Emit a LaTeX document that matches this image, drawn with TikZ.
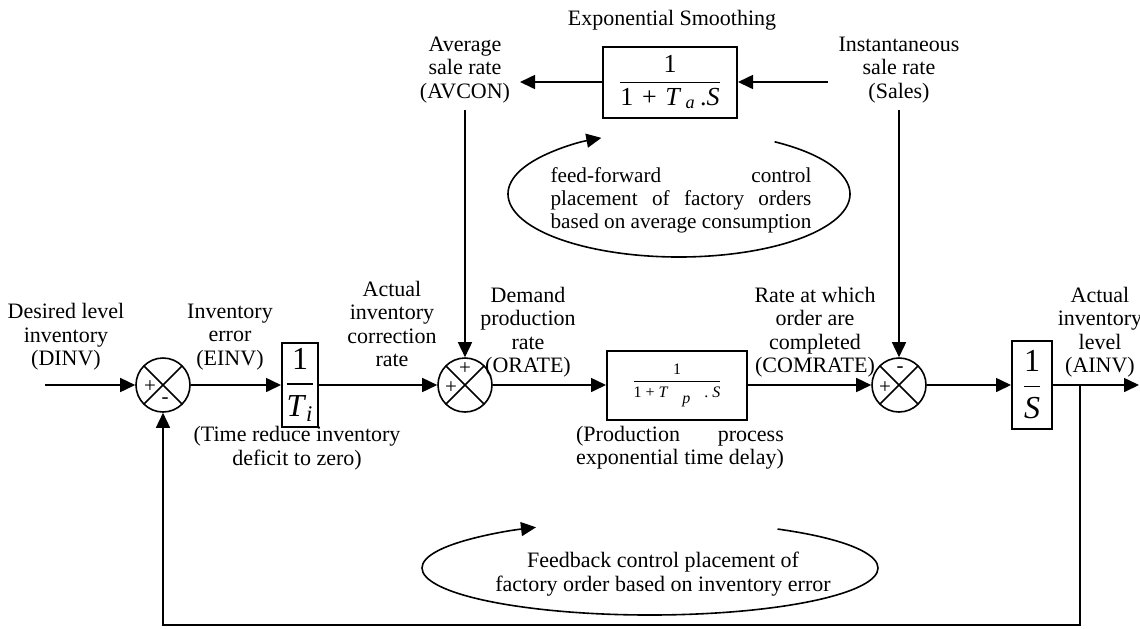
\documentclass[tikz,border=0pt]{standalone}
\usepackage{fontspec}
\setmainfont{Liberation Serif}
\usepackage{amsmath}
\usepackage{calc}
\usetikzlibrary{arrows.meta,positioning}

\newcommand{\gainfrac}[2]{$\dfrac{\text{#1}}{\text{#2}}$}

\tikzset{
  sumnode/.style={circle, draw, minimum size=27pt, inner sep=0pt,
    path picture={\draw (path picture bounding box.south west) -- (path picture bounding box.north east)
                        (path picture bounding box.north west) -- (path picture bounding box.south east);}},
  sig/.style={font=\fontsize{10.5}{10.5}\selectfont, inner sep=0pt},
  gainbox/.style={draw, line width=1pt, inner sep=0pt},
  lbl/.style={align=center},
  arr/.style={-{Triangle[length=7.5pt,width=7pt]}}
}

\begin{document}
\begin{tikzpicture}[x=0.5pt,y=-0.5pt, line width=0.8pt, every node/.style={font=\fontsize{11}{11.7}\selectfont}]
  \useasboundingbox (0,0) rectangle (1140,628);

  % main forward path
  \coordinate (in) at (45,385);
  \node[sumnode] (s1) at (163,385) {};
  \node[gainbox, minimum width=18pt, minimum height=42pt, font=\fontsize{16}{19}\selectfont] (ti) at (300,385)
    {\gainfrac{1}{\textit{T}\textsubscript{\textit{i}}}};
  \node[sumnode] (s2) at (465,385) {};
  \node[gainbox, minimum width=70pt, minimum height=34.5pt, font=\fontsize{8}{9}\selectfont] (tp) at (677,385)
    {\gainfrac{1}{1 + \textit{T}\hspace{7pt}\raisebox{-3pt}{\textit{p}}\hspace{7pt}.\hspace{2pt}\textit{S}}\hspace{8pt}};
  \node[sumnode] (s3) at (899,385) {};
  \node[gainbox, minimum width=20pt, minimum height=44pt, font=\fontsize{16}{19}\selectfont] (sb) at (1032,385)
    {\gainfrac{1}{\textit{S}}};
  \coordinate (br) at (1080,385);
  \coordinate (out) at (1139,385);
  \coordinate (fbc) at (1080,625);

  % signs
  \node[sig] (s1p) at ([xshift=-6.5pt,yshift=-1pt]s1.center) {+};
  \node[sig] (s1m) at ([xshift=1pt,yshift=-8pt]s1.center) {-};
  \node[sig] (s2t) at ([yshift=8pt]s2.center) {+};
  \node[sig] (s2l) at ([xshift=-7pt,yshift=-1.5pt]s2.center) {+};
  \node[sig] (s3p) at ([xshift=-7pt,yshift=-1.5pt]s3.center) {+};
  \node[sig] (s3m) at ([xshift=0.5pt,yshift=7.5pt]s3.center) {-};

  % smoothing branch
  \node[gainbox, minimum width=67pt, minimum height=35.5pt, font=\fontsize{13}{15}\selectfont] (ta) at (670,82)
    {\gainfrac{1}{1\,\,+\,\,\textit{T}\,\textsubscript{\textit{a}}\,.\textit{S}}};
  \node (es) at (672,20) {Exponential Smoothing};
  \node[lbl] (av) at (465,70) {Average\\sale rate\\(AVCON)};
  \node[lbl] (sales) at (899,70) {Instantaneous\\sale rate\\(Sales)};
  \coordinate (salesin) at (828,82);
  \coordinate (avout) at (520,82);

  % labels
  \node[lbl] (dinv) at (66,337) {Desired level\\inventory\\(DINV)};
  \node[lbl] (einv) at (230,337) {Inventory\\error\\(EINV)};
  \node[lbl] (acr) at (392,324) {Actual\\inventory\\correction\\rate};
  \node[lbl] (orate) at (528,332) {Demand\\production\\rate\\(ORATE)};
  \node[lbl] (comrate) at (815,332) {Rate at which\\order are\\completed\\(COMRATE)};
  \node[lbl] (ainv) at (1100,332) {Actual\\inventory\\level\\(AINV)};
  \node[lbl] (tnote) at (297,448) {(Time reduce inventory\\deficit to zero)};
  \node[lbl] (pnote) at (680,448)
    {\makebox[\widthof{exponential time delay)}][s]{(Production process}\\exponential time delay)};

  % loop notes
  \coordinate (ffc) at (679,194);
  \node[lbl, font=\fontsize{10.6}{11.5}\selectfont] (ff) at (681,200)
    {\makebox[\widthof{based on average consumption}][s]{feed-forward control}\\
     \makebox[\widthof{based on average consumption}][s]{placement of factory orders}\\
     based on average consumption};
  \coordinate (fbcen) at (650,568);
  \node[lbl] (fb) at (663,574) {Feedback control placement of\\factory order based on inventory error};

  % connectors
  \draw[arr] (in) -- (s1);
  \draw[arr] (s1) -- (ti);
  \draw[arr] (ti) -- (s2);
  \draw[arr] (s2) -- (tp);
  \draw[arr] (tp) -- (s3);
  \draw[arr] (s3) -- (sb);
  \draw[arr] (sb) -- (out);
  \draw[arr] (br) -- (fbc) -| (s1);
  \draw[arr] (salesin) -- (ta);
  \draw[arr] (ta) -- (avout);
  \draw[arr] (av) -- (s2);
  \draw[arr] (sales) -- (s3);

  % loop arcs
  \draw[arr] (ffc) ++(-56:171 and 63) arc[start angle=-56, end angle=243, x radius=171, y radius=63];
  \draw[arr] (fbcen) ++(-56:228 and 47) arc[start angle=-56, end angle=240, x radius=228, y radius=47];
\end{tikzpicture}
\end{document}
